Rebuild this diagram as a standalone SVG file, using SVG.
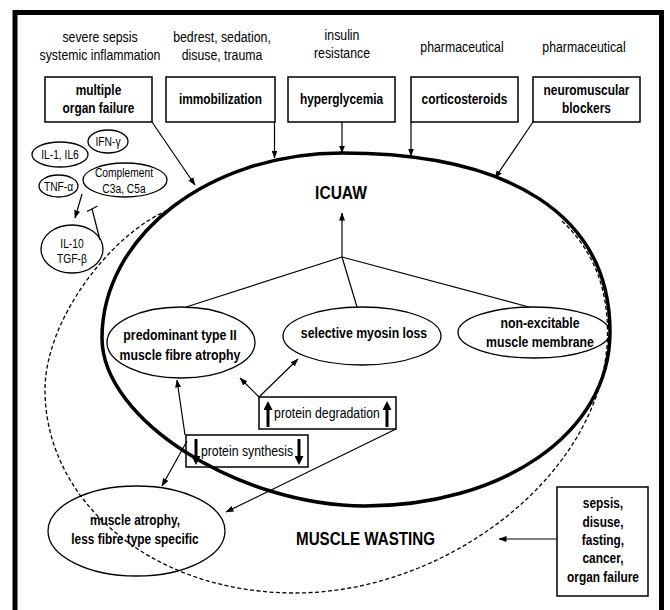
<svg xmlns="http://www.w3.org/2000/svg" width="670" height="610" viewBox="0 0 670 610">
<defs>
<style>
.t{font-family:"Liberation Sans",Arial,sans-serif;font-size:15px;text-anchor:middle;fill:#000}
.b{font-weight:bold}
.s{font-size:12.5px}
.box{fill:none;stroke:#000;stroke-width:1.5}
.el{fill:none;stroke:#000;stroke-width:1.3}
.c{fill:none;stroke:#000;stroke-width:1.2}
.a{marker-end:url(#ah)}
.thick{fill:none;stroke:#000;stroke-width:3;marker-end:url(#big)}
</style>
<marker id="ah" markerUnits="userSpaceOnUse" markerWidth="8" markerHeight="6" refX="7.5" refY="3" orient="auto"><path d="M0,0 L8,3 L0,6 z" fill="#000"/></marker>
<marker id="big" markerUnits="userSpaceOnUse" markerWidth="10" markerHeight="9" refX="2" refY="4.5" orient="auto"><path d="M0,0 L9,4.5 L0,9 z" fill="#000"/></marker>
</defs>
<rect x="0" y="0" width="670" height="610" fill="#fff"/>
<rect x="15" y="12.5" width="646.5" height="640" fill="none" stroke="#000" stroke-width="5"/>

<g id="top-labels">
<text class="t" transform="translate(100,42) scale(0.82,1)">severe sepsis</text>
<text class="t" transform="translate(100,60) scale(0.82,1)">systemic inflammation</text>
<text class="t" transform="translate(222,42) scale(0.82,1)">bedrest, sedation,</text>
<text class="t" transform="translate(222,60) scale(0.82,1)">disuse, trauma</text>
<text class="t" transform="translate(342,40) scale(0.82,1)">insulin</text>
<text class="t" transform="translate(342,58) scale(0.82,1)">resistance</text>
<text class="t" transform="translate(462,52) scale(0.82,1)">pharmaceutical</text>
<text class="t" transform="translate(584,52) scale(0.82,1)">pharmaceutical</text>
</g>

<g id="multiple-organ-failure">
<rect class="box" x="45" y="77" width="107" height="45"/>
<text class="t b" style="font-size:14.5px" transform="translate(98.5,95) scale(0.82,1)">multiple</text>
<text class="t b" style="font-size:14.5px" transform="translate(98.5,113) scale(0.82,1)">organ failure</text>
</g>
<g id="immobilization">
<rect class="box" x="166" y="77" width="109" height="45"/>
<text class="t b" style="font-size:14.5px" transform="translate(220.5,104) scale(0.82,1)">immobilization</text>
</g>
<g id="hyperglycemia">
<rect class="box" x="288" y="77" width="107" height="45"/>
<text class="t b" style="font-size:14.5px" transform="translate(341.5,104) scale(0.82,1)">hyperglycemia</text>
</g>
<g id="corticosteroids">
<rect class="box" x="411" y="77" width="107" height="45"/>
<text class="t b" style="font-size:14.5px" transform="translate(464.5,104) scale(0.82,1)">corticosteroids</text>
</g>
<g id="neuromuscular-blockers">
<rect class="box" x="533" y="77" width="107" height="45"/>
<text class="t b" style="font-size:14.5px" transform="translate(586.5,95) scale(0.82,1)">neuromuscular</text>
<text class="t b" style="font-size:14.5px" transform="translate(586.5,113) scale(0.82,1)">blockers</text>
</g>

<g id="ifn-gamma">
<ellipse class="el" cx="108" cy="141.5" rx="20" ry="11.5"/>
<text class="t s" transform="translate(108,146) scale(0.82,1)">IFN-γ</text>
</g>
<g id="il1-il6">
<ellipse class="el" cx="60" cy="154.5" rx="28" ry="12.5"/>
<text class="t s" transform="translate(60,159) scale(0.82,1)">IL-1, IL6</text>
</g>
<g id="complement">
<ellipse class="el" cx="125" cy="180" rx="42" ry="17"/>
<text class="t s" transform="translate(124,177) scale(0.82,1)">Complement</text>
<text class="t s" transform="translate(124,193) scale(0.82,1)">C3a, C5a</text>
</g>
<g id="tnf-alpha">
<ellipse class="el" cx="58.5" cy="186" rx="19.5" ry="11"/>
<text class="t s" transform="translate(58.5,190.5) scale(0.82,1)">TNF-α</text>
</g>
<g id="il10-tgfb">
<ellipse class="el" cx="72" cy="249" rx="31" ry="24"/>
<text class="t s" transform="translate(72,248) scale(0.82,1)">IL-10</text>
<text class="t s" transform="translate(72,263) scale(0.82,1)">TGF-β</text>
</g>

<g id="muscle-wasting">
<path d="M562,221 C592,249 607.5,286 607.5,332 C607.5,470 450,593 295,593 C150,593 45,500 45,390 C45,320 110,235 168,210" fill="none" stroke="#000" stroke-width="1.3" stroke-dasharray="4,2.5"/>
<text class="t b" style="font-size:18.5px" transform="translate(365.5,545) scale(0.82,1)">MUSCLE WASTING</text>
</g>

<g id="icuaw">
<path d="M342,153 C510,153 610,215 610,332 C610,435 500,506 365,506 C240,506 102,420 102,338 C102,236 209,153 342,153 Z" fill="none" stroke="#000" stroke-width="3.5"/>
<text class="t b" style="font-size:19px" transform="translate(341,199) scale(0.82,1)">ICUAW</text>
</g>

<g id="type-ii-atrophy">
<ellipse class="el" cx="181" cy="342.5" rx="74" ry="35.5"/>
<text class="t b" transform="translate(180,340) scale(0.82,1)">predominant type II</text>
<text class="t b" transform="translate(180,360) scale(0.82,1)">muscle fibre atrophy</text>
</g>
<g id="myosin-loss">
<ellipse class="el" cx="362" cy="336" rx="79" ry="29"/>
<text class="t b" transform="translate(364,338) scale(0.82,1)">selective myosin loss</text>
</g>
<g id="non-excitable">
<ellipse class="el" cx="534" cy="332.5" rx="76" ry="25.5"/>
<text class="t b" transform="translate(540,328) scale(0.82,1)">non-excitable</text>
<text class="t b" transform="translate(540,347) scale(0.82,1)">muscle membrane</text>
</g>

<g id="protein-degradation">
<rect class="box" x="259" y="397" width="137" height="32"/>
<text class="t" transform="translate(327,418) scale(0.82,1)">protein degradation</text>
<line class="thick" x1="268" y1="427" x2="268" y2="408"/>
<line class="thick" x1="387" y1="427" x2="387" y2="408"/>
</g>
<g id="protein-synthesis">
<rect class="box" x="186" y="435" width="122" height="32"/>
<text class="t" transform="translate(247,456) scale(0.82,1)">protein synthesis</text>
<line class="thick" x1="196" y1="439" x2="196" y2="458"/>
<line class="thick" x1="299" y1="439" x2="299" y2="458"/>
</g>

<g id="muscle-atrophy">
<ellipse class="el" cx="136.5" cy="531" rx="88.5" ry="45"/>
<text class="t b" style="font-size:14.5px" transform="translate(135,525) scale(0.82,1)">muscle atrophy,</text>
<text class="t b" style="font-size:14.5px" transform="translate(135,544) scale(0.82,1)">less fibre type specific</text>
</g>

<g id="sepsis-disuse">
<rect class="box" x="557" y="487" width="91" height="109"/>
<text class="t b" style="font-size:14.5px" transform="translate(603,508) scale(0.82,1)">sepsis,</text>
<text class="t b" style="font-size:14.5px" transform="translate(603,527) scale(0.82,1)">disuse,</text>
<text class="t b" style="font-size:14.5px" transform="translate(603,545) scale(0.82,1)">fasting,</text>
<text class="t b" style="font-size:14.5px" transform="translate(603,563) scale(0.82,1)">cancer,</text>
<text class="t b" style="font-size:14.5px" transform="translate(603,582) scale(0.82,1)">organ failure</text>
</g>

<g id="connectors">
<line class="c a" x1="152" y1="122" x2="195" y2="185"/>
<line class="c a" x1="274.5" y1="122" x2="274.5" y2="158"/>
<line class="c a" x1="342" y1="122" x2="342" y2="153"/>
<line class="c a" x1="411" y1="122" x2="411" y2="156"/>
<line class="c a" x1="533" y1="122" x2="495" y2="178"/>
<line class="c a" x1="82" y1="194" x2="75" y2="218"/>
<line class="c" x1="100" y1="240" x2="92" y2="209"/>
<line class="c" x1="87" y1="211.5" x2="97.5" y2="206"/>
<line class="c a" x1="342" y1="257" x2="342" y2="213"/>
<line class="c" x1="342" y1="257" x2="186" y2="307"/>
<line class="c" x1="342" y1="257" x2="357" y2="307"/>
<line class="c" x1="342" y1="257" x2="529" y2="307"/>
<line class="c a" x1="259" y1="397" x2="298" y2="359"/>
<line class="c a" x1="259" y1="397" x2="240" y2="378"/>
<line class="c a" x1="185" y1="435" x2="177" y2="380"/>
<line class="c a" x1="187" y1="441" x2="162" y2="486"/>
<line class="c a" x1="396" y1="429" x2="226" y2="512"/>
<line class="c a" x1="557" y1="539" x2="499" y2="539"/>
</g>
</svg>
